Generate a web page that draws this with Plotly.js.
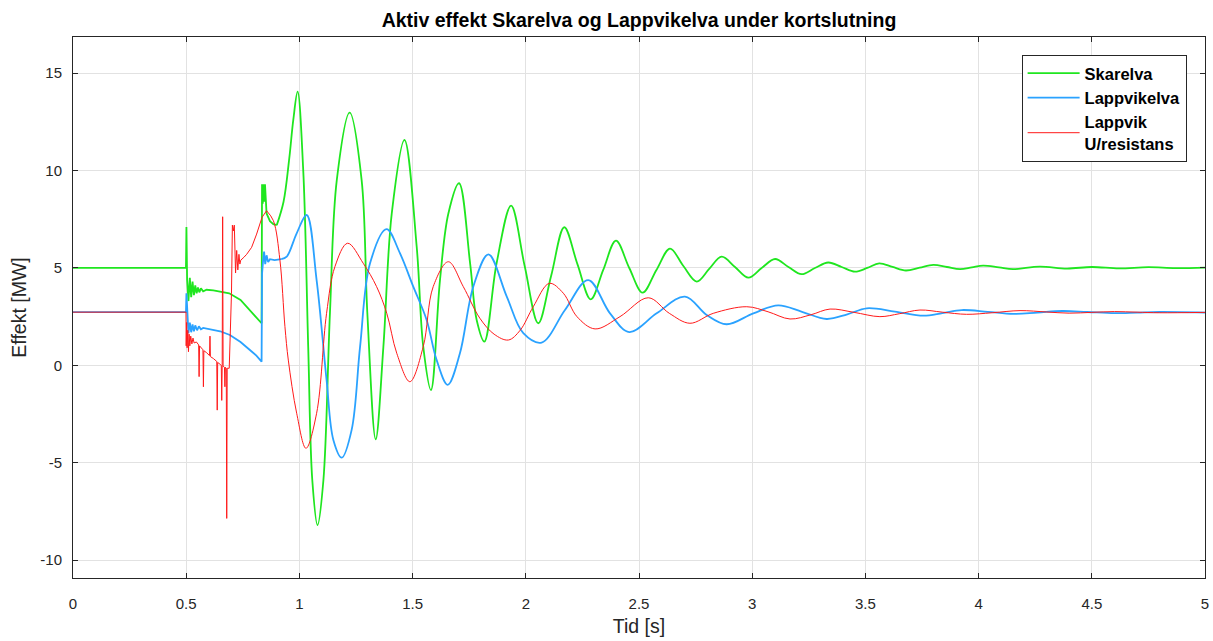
<!DOCTYPE html>
<html>
<head>
<meta charset="utf-8">
<script src="https://cdn.plot.ly/plotly-3.0.1.min.js"></script>
<style>html,body{margin:0;padding:0;background:#fff;}#chart{width:1213px;height:641px;}</style>
</head>
<body>
<div id="chart"></div>
<script>
// ---------- data (time in s, active power in MW) ----------
// Skarelva: fault transient part (drawn straight)
const skarelvaTimeA  = [0, 0.499, 0.501, 0.504, 0.510, 0.516, 0.522, 0.528, 0.534, 0.540, 0.546, 0.552, 0.558, 0.565, 0.575, 0.59, 0.62, 0.65, 0.69, 0.74, 0.78, 0.81, 0.833, 0.835, 0.838, 0.841, 0.844, 0.848, 0.855, 0.87, 0.885, 0.90];
const skarelvaPowerA = [5.0, 5.0, 7.1, 4.4, 3.3, 4.5, 3.5, 4.3, 3.6, 4.1, 3.7, 4.0, 3.75, 3.95, 3.8, 3.88, 3.85, 3.8, 3.7, 3.36, 2.84, 2.5, 2.16, 9.3, 8.3, 9.3, 8.4, 9.3, 7.8, 7.4, 7.25, 7.2];
// Skarelva: swing after fault clearing (drawn smooth)
const skarelvaTimeB  = [0.90, 0.93, 0.955, 0.973, 0.992, 1.017, 1.039, 1.057, 1.08, 1.106, 1.135, 1.165, 1.222, 1.275, 1.30, 1.337, 1.371, 1.408, 1.464, 1.518, 1.547, 1.581, 1.621, 1.658, 1.705, 1.754, 1.783, 1.817, 1.871, 1.935, 1.995, 2.055, 2.112, 2.170, 2.228, 2.287, 2.342, 2.398, 2.457, 2.516, 2.577, 2.637, 2.696, 2.755, 2.81, 2.865, 2.924, 2.983, 3.042, 3.101, 3.16, 3.218, 3.277, 3.336, 3.395, 3.454, 3.508, 3.561, 3.62, 3.679, 3.74, 3.80, 3.86, 3.918, 3.97, 4.02, 4.09, 4.152, 4.27, 4.39, 4.50, 4.62, 4.75, 4.87, 5.0];
const skarelvaPowerB = [7.2, 8.4, 10.6, 12.6, 14.05, 10.0, 0.9, -5.9, -8.2, -5.9, 2.7, 9.5, 12.98, 9.5, 2.7, -3.8, 0.96, 7.8, 11.57, 6.1, 0.96, -1.27, 4.38, 7.8, 9.35, 5.24, 2.33, 1.22, 5.24, 8.2, 5.1, 2.16, 4.6, 7.09, 5.2, 3.39, 4.9, 6.40, 5.0, 3.73, 4.9, 5.99, 5.1, 4.30, 4.95, 5.58, 5.05, 4.50, 5.0, 5.46, 5.05, 4.68, 5.0, 5.28, 5.05, 4.81, 5.0, 5.24, 5.05, 4.87, 5.02, 5.16, 5.05, 4.94, 5.03, 5.12, 5.03, 4.94, 5.07, 4.97, 5.05, 4.98, 5.04, 4.99, 5.02];

// Lappvikelva
const lappvikelvaTimeA  = [0, 0.499, 0.501, 0.505, 0.510, 0.516, 0.522, 0.528, 0.534, 0.540, 0.548, 0.556, 0.565, 0.575, 0.60, 0.65, 0.693, 0.74, 0.78, 0.81, 0.833, 0.835, 0.839, 0.844, 0.849, 0.855, 0.862, 0.87, 0.89, 0.92];
const lappvikelvaPowerA = [2.73, 2.73, 3.7, 2.3, 1.65, 2.2, 1.7, 2.1, 1.75, 2.05, 1.8, 2.0, 1.85, 1.92, 1.85, 1.75, 1.56, 1.2, 0.8, 0.5, 0.19, 4.7, 5.3, 5.84, 5.2, 5.65, 5.3, 5.45, 5.4, 5.45];
const lappvikelvaTimeB  = [0.92, 0.944, 0.988, 1.032, 1.076, 1.12, 1.15, 1.187, 1.231, 1.268, 1.312, 1.385, 1.444, 1.503, 1.562, 1.606, 1.655, 1.709, 1.768, 1.835, 1.916, 1.989, 2.070, 2.173, 2.276, 2.372, 2.457, 2.578, 2.703, 2.799, 2.887, 3.005, 3.115, 3.22, 3.329, 3.42, 3.506, 3.63, 3.756, 3.84, 3.925, 4.04, 4.153, 4.26, 4.37, 4.48, 4.60, 4.70, 4.80, 5.0];
const lappvikelvaPowerB = [5.45, 5.58, 6.78, 7.72, 4.38, -0.75, -3.83, -4.74, -3.3, 0.96, 5.24, 6.99, 5.76, 4.04, 2.33, 0.28, -1.0, 0.62, 4.04, 5.70, 3.53, 1.65, 1.17, 2.84, 4.38, 2.67, 1.71, 2.67, 3.53, 2.59, 2.11, 2.67, 3.08, 2.75, 2.38, 2.62, 2.93, 2.76, 2.55, 2.68, 2.84, 2.75, 2.64, 2.71, 2.79, 2.74, 2.68, 2.71, 2.74, 2.71];

// Lappvik U/resistans
const lappvikUTimeA  = [0, 0.499, 0.500, 0.502, 0.504, 0.507, 0.510, 0.513, 0.516, 0.520, 0.525, 0.530, 0.535, 0.545, 0.555, 0.557, 0.559, 0.566, 0.574, 0.576, 0.578, 0.590, 0.603, 0.605, 0.607, 0.620, 0.635, 0.637, 0.639, 0.650, 0.655, 0.657, 0.659, 0.661, 0.663, 0.669, 0.671, 0.673, 0.677, 0.679, 0.681, 0.690, 0.696, 0.700, 0.704, 0.708, 0.7125, 0.718, 0.723, 0.728, 0.733, 0.737, 0.741, 0.748, 0.755, 0.767, 0.789, 0.811, 0.835, 0.855];
const lappvikUPowerA = [2.73, 2.73, 1.0, 2.2, 0.9, 1.8, 0.7, 1.6, 1.0, 1.5, 1.1, 1.4, 1.15, 1.2, 1.05, -0.58, 1.0, 0.9, 0.8, -1.1, 0.75, 0.65, 0.5, 1.5, 0.45, 0.35, 0.2, -2.3, 0.15, 0.05, 0.0, -1.8, 0.0, 7.63, -0.05, -0.1, -1.1, -0.1, -0.15, -7.86, -0.15, -0.15, 2.0, 3.7, 7.2, 6.9, 7.2, 4.74, 5.9, 4.9, 5.7, 5.2, 5.4, 5.5, 5.55, 5.7, 6.06, 6.74, 7.6, 7.94];
const lappvikUTimeB  = [0.855, 0.885, 0.914, 0.936, 0.951, 0.988, 1.029, 1.076, 1.12, 1.157, 1.213, 1.282, 1.341, 1.386, 1.43, 1.488, 1.547, 1.591, 1.658, 1.724, 1.797, 1.86, 1.923, 1.975, 2.033, 2.104, 2.166, 2.226, 2.306, 2.416, 2.541, 2.634, 2.725, 2.828, 2.976, 3.07, 3.167, 3.26, 3.344, 3.45, 3.564, 3.65, 3.741, 3.84, 3.947, 4.06, 4.183, 4.30, 4.40, 4.50, 4.60, 4.70, 4.80, 5.0];
const lappvikUPowerB = [7.94, 7.43, 5.4, 2.0, 0.27, -2.46, -4.26, -2.46, 2.67, 5.07, 6.27, 5.24, 4.04, 2.67, 0.62, -0.84, 0.96, 4.04, 5.32, 4.04, 2.42, 1.6, 1.30, 1.8, 3.01, 4.21, 3.7, 2.50, 1.87, 2.50, 3.47, 2.67, 2.16, 2.67, 3.01, 2.75, 2.38, 2.6, 2.89, 2.72, 2.5, 2.65, 2.84, 2.73, 2.62, 2.7, 2.81, 2.74, 2.68, 2.72, 2.76, 2.73, 2.70, 2.72];

const seriesNames  = ['Skarelva', 'Lappvikelva', 'Lappvik<br>U/resistans'];
const xTickValues  = [0, 0.5, 1, 1.5, 2, 2.5, 3, 3.5, 4, 4.5, 5];
const xTickLabels  = ['0', '0.5', '1', '1.5', '2', '2.5', '3', '3.5', '4', '4.5', '5'];
const yTickValues  = [-10, -5, 0, 5, 10, 15];
const yTickLabels  = ['-10', '-5', '0', '5', '10', '15'];

// ---------- styles ----------
const colGreen = '#1fe61f';
const colBlue  = '#2aa2ff';
const colRed   = '#ff1a1a';
const axisCol  = '#262626';
const font = 'Liberation Sans, Arial, Helvetica, sans-serif';

function pair(tA, pA, tB, pB, name, color, width, group) {
  return [
    {x: tA, y: pA, type: 'scatter', mode: 'lines', name: name, legendgroup: group,
     line: {color: color, width: width, shape: 'linear'}, showlegend: true},
    {x: tB, y: pB, type: 'scatter', mode: 'lines', name: name, legendgroup: group,
     line: {color: color, width: width, shape: 'spline', smoothing: 1}, showlegend: false}
  ];
}

const data = [].concat(
  pair(skarelvaTimeA, skarelvaPowerA, skarelvaTimeB, skarelvaPowerB, seriesNames[0], colGreen, 1.8, 'g'),
  pair(lappvikelvaTimeA, lappvikelvaPowerA, lappvikelvaTimeB, lappvikelvaPowerB, seriesNames[1], colBlue, 1.8, 'b'),
  pair(lappvikUTimeA, lappvikUPowerA, lappvikUTimeB, lappvikUPowerB, seriesNames[2], colRed, 1.0, 'r')
);

const axisCommon = {
  showline: true, linecolor: axisCol, linewidth: 1, mirror: 'ticks',
  ticks: 'inside', ticklen: 5, tickcolor: axisCol, tickwidth: 1,
  showgrid: true, gridcolor: '#e2e2e2', gridwidth: 1, zeroline: false,
  tickfont: {family: font, size: 15, color: axisCol}
};

const layout = {
  width: 1213, height: 641,
  margin: {l: 73, r: 8, t: 37, b: 63},
  paper_bgcolor: '#ffffff', plot_bgcolor: '#ffffff',
  font: {family: font, color: axisCol},
  title: {text: '<b>Aktiv effekt Skarelva og Lappvikelva under kortslutning</b>',
          font: {family: font, size: 19.5, color: '#000000'},
          x: 0.5, xref: 'paper', xanchor: 'center', y: 1 - 20 / 641, yref: 'container', yanchor: 'middle'},
  xaxis: Object.assign({}, axisCommon, {
    range: [0, 5], tickmode: 'array', tickvals: xTickValues, ticktext: xTickLabels,
    ticklabelstandoff: 12,
    title: {text: 'Tid [s]', font: {family: font, size: 19.5, color: axisCol}, standoff: 8}
  }),
  yaxis: Object.assign({}, axisCommon, {
    range: [-10.92, 16.86], tickmode: 'array', tickvals: yTickValues, ticktext: yTickLabels,
    ticklabelstandoff: 7,
    title: {text: 'Effekt [MW]', font: {family: font, size: 19.5, color: axisCol}, standoff: 8}
  }),
  legend: {x: 0.838, y: 0.967, xanchor: 'left', yanchor: 'top',
           bgcolor: '#ffffff', bordercolor: axisCol, borderwidth: 1,
           font: {family: font, size: 16.5, color: '#000000', weight: 'bold'},
           itemwidth: 52, tracegroupgap: 0},
  showlegend: true
};

Plotly.newPlot('chart', data, layout, {staticPlot: true, displayModeBar: false});
</script>
</body>
</html>
